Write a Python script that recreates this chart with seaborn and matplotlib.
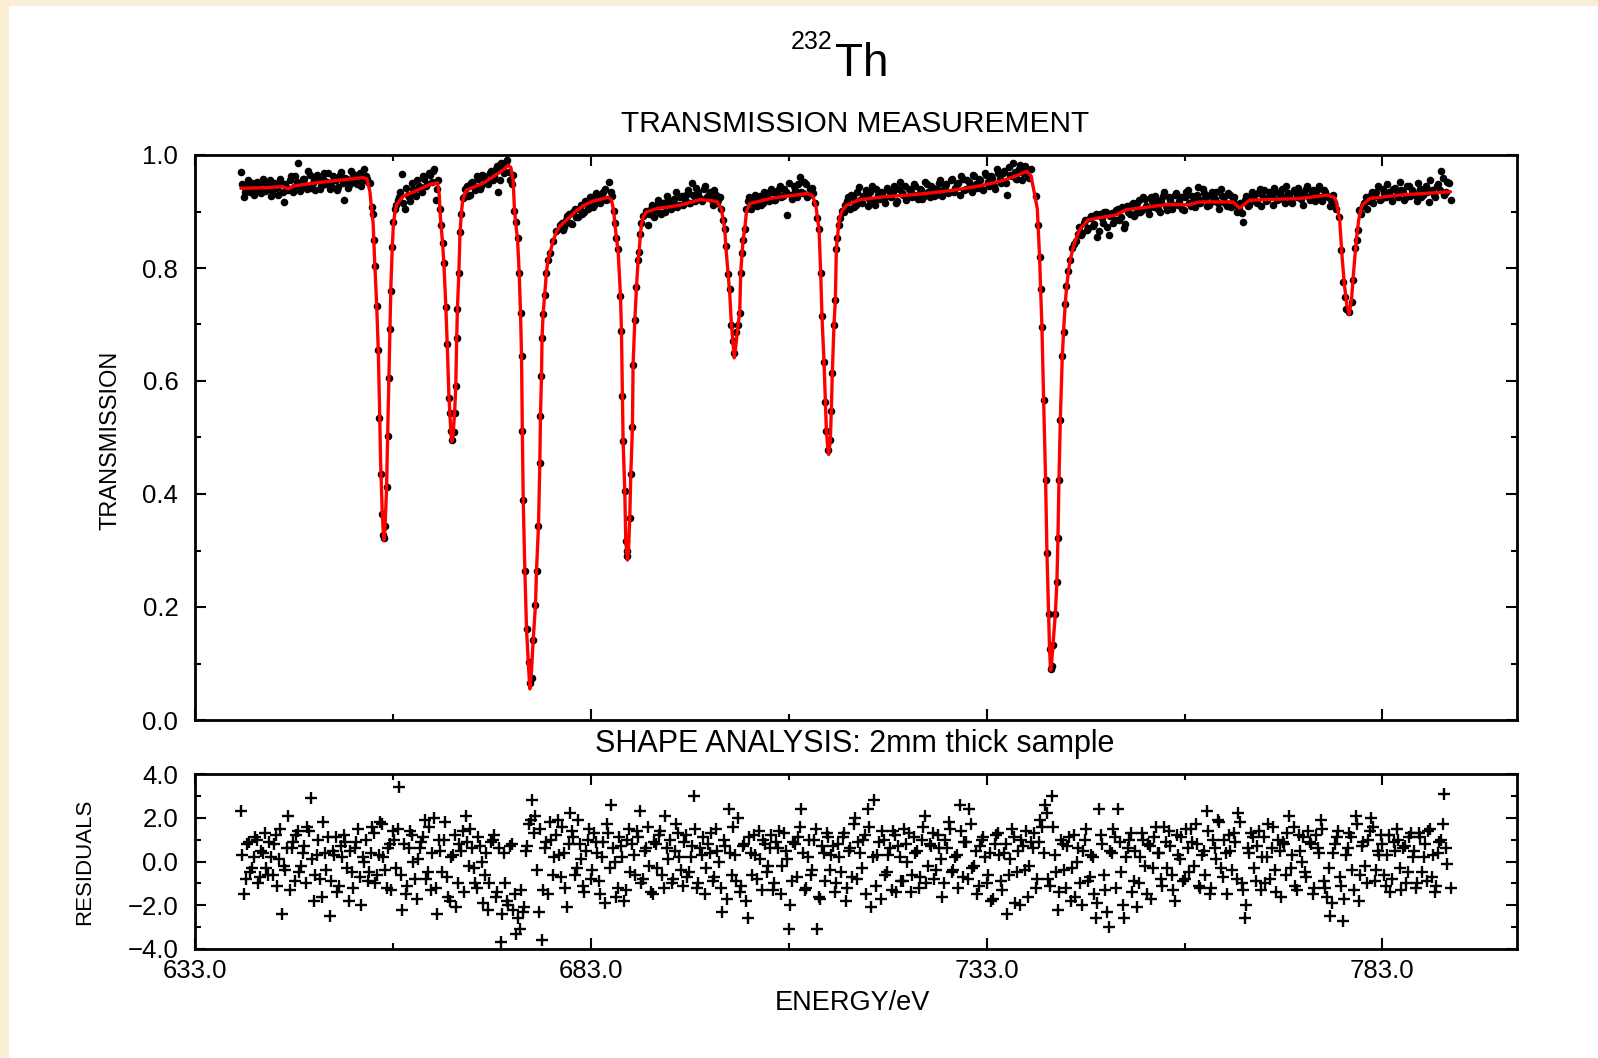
import numpy as np
import pandas as pd
import matplotlib
matplotlib.use("Agg")
import matplotlib.pyplot as plt
import seaborn as sns
from matplotlib.patches import Rectangle
from matplotlib.ticker import MultipleLocator, FuncFormatter, FixedLocator

# ---------------------------------------------------------------- data
# fitted transmission curve (energy / eV, transmission)
fit_e = [638.8, 641.5, 644.1, 644.8, 645.4, 648.4, 651.0, 654.2, 654.7, 655.1,
         655.3, 655.5, 655.7, 655.95, 656.15, 656.3, 656.45, 656.65, 656.78, 656.87,
         657.0, 657.2, 657.33, 657.49, 657.62, 657.75, 657.92, 658.05, 658.25, 658.47,
         659.3, 661.0, 662.7, 663.64,
         663.85, 664.0, 664.27, 664.44, 664.69, 664.86, 665.07, 665.2, 665.32, 665.45,
         665.6, 665.8, 665.95, 666.05, 666.15, 666.33, 666.46, 666.6, 666.8,
         667.1, 667.3, 669.4, 671.9, 672.56, 672.9, 673.19,
         673.35, 673.5, 673.74, 673.95, 674.12, 674.25, 674.35, 674.46, 674.67, 674.88,
         675.13, 675.3, 675.5, 675.72, 676.01, 676.14, 676.39, 676.56, 676.64, 676.77,
         676.84, 676.97, 677.18, 677.39, 677.59, 677.89, 678.22, 678.65, 679.09,
         680.0, 681.0, 682.0, 683.0, 684.0, 685.2, 685.6,
         685.9, 686.03, 686.24, 686.45, 686.75, 686.87, 687.0, 687.08, 687.29, 687.42,
         687.63, 687.76, 687.92, 688.05, 688.26, 688.34, 688.56, 688.77, 688.98, 689.1,
         689.27, 689.4, 689.61, 690.03,
         691.3, 694.2, 696.8, 698.9, 699.5,
         699.71, 699.92, 700.05, 700.34, 700.55, 700.76, 700.97, 701.12, 701.3, 701.6,
         701.81, 701.94, 702.11, 702.24, 702.45, 702.66,
         703.08, 706.0, 710.4, 711.07, 711.49,
         711.62, 711.83, 712.04, 712.2, 712.46, 712.63, 712.76, 712.96, 713.05, 713.26,
         713.38, 713.51, 713.72, 713.89, 714.02, 714.15, 714.31, 714.44, 714.73,
         715.28, 716.97, 720.0, 723.0, 726.0, 729.0, 732.0, 734.6, 736.5, 738.1, 738.6,
         739.0, 739.4, 739.69, 739.82, 739.99, 740.2, 740.45, 740.62, 740.83, 740.95,
         741.08, 741.2, 741.38, 741.68, 741.88, 742.01, 742.14, 742.31, 742.56, 742.77,
         742.95, 743.1, 743.3, 743.5, 743.75, 744.0,
         744.7, 745.8, 746.85, 749.4, 750.6, 755.7, 758.6, 759.9, 764.1, 764.95,
         766.2, 772.5, 776.1, 776.9, 777.2,
         777.6, 777.9, 778.2, 778.5, 778.8, 779.1, 779.4, 779.7, 780.0, 780.3,
         780.5, 781.4, 785.1, 791.6]
fit_t = [0.941, 0.942, 0.944, 0.940, 0.945, 0.951, 0.955, 0.960, 0.958, 0.935,
         0.905, 0.880, 0.810, 0.735, 0.655, 0.560, 0.455, 0.370, 0.335, 0.318,
         0.340, 0.410, 0.500, 0.600, 0.690, 0.770, 0.835, 0.875, 0.898, 0.912,
         0.927, 0.937, 0.948, 0.951,
         0.930, 0.890, 0.845, 0.808, 0.731, 0.666, 0.575, 0.540, 0.510, 0.493,
         0.505, 0.545, 0.595, 0.670, 0.728, 0.790, 0.855, 0.890, 0.918,
         0.932, 0.938, 0.950, 0.973, 0.982, 0.978, 0.955,
         0.905, 0.880, 0.852, 0.792, 0.721, 0.644, 0.512, 0.390, 0.264, 0.161,
         0.095, 0.055, 0.085, 0.142, 0.203, 0.264, 0.344, 0.454, 0.538, 0.609,
         0.676, 0.718, 0.753, 0.792, 0.815, 0.829, 0.847, 0.864, 0.874,
         0.886, 0.899, 0.910, 0.917, 0.921, 0.925, 0.921,
         0.901, 0.879, 0.853, 0.830, 0.750, 0.689, 0.573, 0.493, 0.406, 0.316,
         0.283, 0.300, 0.357, 0.435, 0.518, 0.628, 0.708, 0.766, 0.815, 0.829,
         0.860, 0.877, 0.890, 0.899,
         0.905, 0.911, 0.921, 0.918, 0.905,
         0.885, 0.869, 0.839, 0.789, 0.755, 0.700, 0.665, 0.641, 0.660, 0.699,
         0.721, 0.792, 0.827, 0.850, 0.869, 0.900,
         0.914, 0.924, 0.932, 0.927, 0.905,
         0.889, 0.869, 0.792, 0.715, 0.634, 0.563, 0.512, 0.477, 0.470, 0.496,
         0.547, 0.615, 0.699, 0.744, 0.834, 0.853, 0.876, 0.889, 0.901,
         0.911, 0.921, 0.926, 0.929, 0.933, 0.938, 0.945, 0.953, 0.962, 0.971, 0.963,
         0.935, 0.905, 0.820, 0.763, 0.695, 0.567, 0.425, 0.296, 0.187, 0.126,
         0.088, 0.100, 0.132, 0.187, 0.245, 0.322, 0.425, 0.531, 0.644, 0.700,
         0.740, 0.765, 0.790, 0.810, 0.825, 0.840,
         0.867, 0.885, 0.888, 0.894, 0.903, 0.912, 0.912, 0.917, 0.917, 0.906,
         0.920, 0.923, 0.929, 0.925, 0.917,
         0.885, 0.820, 0.770, 0.735, 0.718, 0.745, 0.800, 0.850, 0.885, 0.905,
         0.912, 0.923, 0.929, 0.935]

# measured points inside the resonance dips
dip_e = [655.31, 655.51, 655.64, 655.73, 655.94, 656.15, 656.27, 656.44, 656.65, 656.78,
         656.86, 656.99, 657.20, 657.33, 657.49, 657.62, 657.71, 657.92, 658.04, 658.25,
         663.93, 664.06, 664.27, 664.44, 664.69, 664.86, 665.07, 665.20, 665.32, 665.49,
         665.74, 665.83, 665.95, 666.04, 666.12, 666.33, 666.46, 666.59, 666.80,
         673.32, 673.49, 673.74, 673.95, 674.12, 674.25, 674.33, 674.46, 674.67, 674.88,
         675.13, 675.30, 675.51, 675.72, 676.01, 676.14, 676.39, 676.56, 676.64, 676.77,
         676.84, 676.97, 677.18, 677.39, 677.59, 677.89, 678.22, 678.65, 679.09,
         685.90, 686.03, 686.24, 686.45, 686.75, 686.87, 687.00, 687.08, 687.29, 687.42,
         687.55, 687.63, 687.92, 688.05, 688.26, 688.34, 688.56, 688.77, 688.98, 689.10,
         689.27, 689.40, 689.61, 690.03,
         699.71, 699.92, 700.05, 700.34, 700.55, 700.76, 700.97, 701.10, 701.39, 701.60,
         701.81, 701.94, 702.11, 702.24, 702.45, 702.66,
         711.62, 711.83, 712.04, 712.20, 712.46, 712.63, 712.76, 712.96, 713.26, 713.38,
         713.51, 713.72, 713.89, 714.02, 714.15, 714.31, 714.44, 714.73,
         739.30, 739.48, 739.69, 739.82, 739.99, 740.20, 740.45, 740.62, 740.83, 740.95,
         741.08, 741.20, 741.38, 741.68, 741.88, 742.01, 742.14, 742.31, 742.56, 742.77,
         742.95, 743.07, 743.28, 743.49, 743.79, 744.05,
         777.57, 777.75, 777.99, 778.29, 778.45, 778.84, 779.10, 779.30, 779.55, 779.75,
         779.95, 780.10]
dip_t = [0.908, 0.895, 0.850, 0.803, 0.732, 0.654, 0.534, 0.435, 0.364, 0.328,
         0.322, 0.344, 0.412, 0.502, 0.605, 0.692, 0.760, 0.837, 0.882, 0.905,
         0.905, 0.876, 0.844, 0.808, 0.731, 0.666, 0.570, 0.544, 0.512, 0.496,
         0.509, 0.544, 0.592, 0.676, 0.728, 0.792, 0.863, 0.895, 0.924,
         0.901, 0.882, 0.853, 0.792, 0.721, 0.644, 0.512, 0.390, 0.264, 0.161,
         0.103, 0.065, 0.075, 0.142, 0.203, 0.264, 0.344, 0.454, 0.538, 0.609,
         0.676, 0.718, 0.753, 0.792, 0.815, 0.827, 0.847, 0.866, 0.876,
         0.901, 0.879, 0.853, 0.833, 0.750, 0.689, 0.573, 0.493, 0.406, 0.316,
         0.290, 0.299, 0.357, 0.435, 0.518, 0.628, 0.708, 0.766, 0.815, 0.829,
         0.860, 0.879, 0.892, 0.901,
         0.885, 0.869, 0.839, 0.789, 0.763, 0.699, 0.670, 0.650, 0.686, 0.699,
         0.721, 0.792, 0.827, 0.850, 0.869, 0.905,
         0.889, 0.869, 0.792, 0.715, 0.634, 0.563, 0.512, 0.477, 0.496, 0.547,
         0.615, 0.699, 0.744, 0.834, 0.853, 0.876, 0.889, 0.901,
         0.927, 0.876, 0.820, 0.763, 0.695, 0.567, 0.425, 0.296, 0.187, 0.126,
         0.090, 0.095, 0.132, 0.187, 0.245, 0.322, 0.425, 0.531, 0.644, 0.686,
         0.737, 0.769, 0.795, 0.815, 0.835, 0.842,
         0.891, 0.832, 0.776, 0.748, 0.728, 0.722, 0.740, 0.779, 0.835, 0.850,
         0.867, 0.903]

# measured points between the dips: energy span of each stretch + values
# (two interleaved channel sets, "a" and "b")
flat_spans_a = [(638.8, 655.1), (658.45, 663.75), (666.95, 673.15), (679.3, 685.7),
                (690.2, 699.5), (702.85, 711.3), (714.95, 738.6), (744.3, 777.1),
                (780.3, 791.6)]
flat0a = [0.970, 0.925, 0.945, 0.935, 0.950, 0.938, 0.948, 0.932, 0.952, 0.940,
          0.955, 0.936, 0.947, 0.930, 0.950, 0.916, 0.942, 0.955, 0.935, 0.962,
          0.985, 0.945, 0.958, 0.940, 0.965, 0.950, 0.938, 0.960, 0.945, 0.968,
          0.952, 0.940, 0.962, 0.955, 0.944, 0.970, 0.921, 0.958, 0.948, 0.966,
          0.952, 0.962, 0.945, 0.975, 0.958, 0.950]
flat1a = [0.912, 0.925, 0.966, 0.905, 0.930, 0.918, 0.940, 0.928, 0.945, 0.935,
          0.958, 0.948, 0.965, 0.972, 0.920, 0.955]
flat2a = [0.925, 0.945, 0.930, 0.952, 0.938, 0.958, 0.945, 0.962, 0.950, 0.968,
          0.955, 0.975, 0.935, 0.985, 0.968, 0.992, 0.955, 0.965]
flat3a = [0.880, 0.872, 0.892, 0.880, 0.900, 0.890, 0.905, 0.895, 0.918, 0.905,
          0.925, 0.912, 0.930, 0.915, 0.935, 0.920, 0.952, 0.928]
flat4a = [0.876, 0.905, 0.890, 0.912, 0.898, 0.915, 0.900, 0.920, 0.905, 0.922,
          0.908, 0.925, 0.912, 0.930, 0.915, 0.950, 0.918, 0.935, 0.922, 0.940,
          0.925, 0.935, 0.912, 0.930, 0.920, 0.905]
flat5a = [0.918, 0.905, 0.922, 0.910, 0.928, 0.915, 0.932, 0.918, 0.935, 0.920,
          0.938, 0.925, 0.940, 0.893, 0.930, 0.945, 0.925, 0.961, 0.932, 0.948,
          0.930, 0.942, 0.915]
flat6a = [0.900, 0.918, 0.905, 0.925, 0.912, 0.943, 0.915, 0.930, 0.910, 0.935,
          0.918, 0.940, 0.922, 0.932, 0.915, 0.938, 0.925, 0.945, 0.918, 0.953,
          0.930, 0.920, 0.940, 0.925, 0.945, 0.922, 0.938, 0.928, 0.948, 0.925,
          0.942, 0.930, 0.950, 0.928, 0.945, 0.932, 0.955, 0.935, 0.948, 0.930,
          0.958, 0.940, 0.952, 0.935, 0.962, 0.942, 0.955, 0.938, 0.965, 0.945,
          0.960, 0.940, 0.968, 0.950, 0.972, 0.930, 0.965, 0.985, 0.958, 0.975,
          0.955, 0.980, 0.962, 0.975]
flat7a = [0.848, 0.872, 0.862, 0.885, 0.870, 0.892, 0.878, 0.855, 0.895, 0.880,
          0.900, 0.858, 0.898, 0.885, 0.905, 0.890, 0.870, 0.910, 0.895, 0.915,
          0.898, 0.920, 0.902, 0.922, 0.905, 0.925, 0.908, 0.920, 0.900, 0.928,
          0.910, 0.925, 0.905, 0.930, 0.912, 0.925, 0.902, 0.935, 0.915, 0.928,
          0.908, 0.944, 0.920, 0.932, 0.910, 0.930, 0.918, 0.935, 0.905, 0.928,
          0.915, 0.932, 0.908, 0.925, 0.900, 0.915, 0.882, 0.928, 0.912, 0.935,
          0.918, 0.932, 0.910, 0.938, 0.920, 0.930, 0.912, 0.935, 0.922, 0.940,
          0.915, 0.932, 0.918, 0.938, 0.925, 0.935, 0.912, 0.940, 0.925, 0.935,
          0.918, 0.940, 0.925, 0.938, 0.928, 0.910, 0.930, 0.905]
flat8a = [0.895, 0.915, 0.905, 0.928, 0.915, 0.935, 0.920, 0.940, 0.925, 0.935,
          0.918, 0.942, 0.925, 0.938, 0.920, 0.945, 0.928, 0.935, 0.918, 0.940,
          0.930, 0.945, 0.917, 0.938, 0.925, 0.948, 0.972, 0.930, 0.952, 0.920]

flat_spans_b = [(639.0, 654.9), (658.6, 663.6), (667.1, 673.0), (679.5, 685.5),
                (690.4, 699.3), (703.0, 711.1), (715.15, 738.4), (744.5, 776.9),
                (780.5, 791.4)]
flat0b = [0.948, 0.935, 0.955, 0.942, 0.930, 0.952, 0.940, 0.958, 0.937, 0.945,
          0.928, 0.950, 0.942, 0.957, 0.935, 0.948, 0.938, 0.962, 0.944, 0.952,
          0.936, 0.958, 0.947, 0.972, 0.942, 0.955, 0.965, 0.940, 0.958, 0.948,
          0.968, 0.945, 0.955, 0.938, 0.965, 0.950, 0.960, 0.942, 0.972, 0.955,
          0.948, 0.968, 0.955, 0.962, 0.952]
flat1b = [0.920, 0.935, 0.915, 0.942, 0.925, 0.950, 0.930, 0.955, 0.940, 0.962,
          0.945, 0.968, 0.952, 0.975, 0.940]
flat2b = [0.940, 0.928, 0.950, 0.945, 0.962, 0.940, 0.965, 0.958, 0.948, 0.972,
          0.962, 0.980, 0.955, 0.978, 0.988, 0.970, 0.948]
flat3b = [0.868, 0.885, 0.895, 0.878, 0.905, 0.890, 0.912, 0.900, 0.915, 0.925,
          0.908, 0.932, 0.918, 0.928, 0.940, 0.922, 0.935]
flat4b = [0.895, 0.912, 0.902, 0.920, 0.895, 0.915, 0.928, 0.910, 0.918, 0.935,
          0.912, 0.928, 0.920, 0.938, 0.915, 0.930, 0.942, 0.925, 0.918, 0.945,
          0.928, 0.922, 0.938, 0.915, 0.925]
flat5b = [0.925, 0.915, 0.930, 0.922, 0.912, 0.935, 0.925, 0.940, 0.920, 0.930,
          0.945, 0.928, 0.935, 0.950, 0.922, 0.938, 0.948, 0.935, 0.952, 0.925,
          0.940, 0.932]
flat6b = [0.912, 0.925, 0.930, 0.908, 0.935, 0.920, 0.928, 0.938, 0.922, 0.945,
          0.912, 0.930, 0.935, 0.920, 0.942, 0.928, 0.935, 0.915, 0.940, 0.932,
          0.945, 0.925, 0.935, 0.948, 0.930, 0.940, 0.922, 0.952, 0.935, 0.945,
          0.928, 0.940, 0.955, 0.938, 0.948, 0.935, 0.958, 0.942, 0.950, 0.962,
          0.938, 0.955, 0.945, 0.965, 0.948, 0.958, 0.940, 0.968, 0.952, 0.962,
          0.945, 0.975, 0.958, 0.968, 0.950, 0.978, 0.962, 0.970, 0.958, 0.982,
          0.968, 0.975, 0.960]
flat7b = [0.860, 0.858, 0.880, 0.868, 0.888, 0.875, 0.895, 0.865, 0.888, 0.900,
          0.872, 0.892, 0.880, 0.902, 0.885, 0.908, 0.878, 0.900, 0.912, 0.892,
          0.915, 0.900, 0.925, 0.910, 0.895, 0.918, 0.928, 0.905, 0.918, 0.935,
          0.902, 0.920, 0.912, 0.932, 0.918, 0.905, 0.925, 0.938, 0.910, 0.922,
          0.930, 0.915, 0.940, 0.925, 0.912, 0.935, 0.922, 0.915, 0.940, 0.925,
          0.910, 0.930, 0.920, 0.912, 0.905, 0.898, 0.920, 0.910, 0.925, 0.930,
          0.915, 0.940, 0.925, 0.918, 0.935, 0.928, 0.942, 0.920, 0.932, 0.925,
          0.945, 0.928, 0.915, 0.935, 0.942, 0.922, 0.932, 0.945, 0.920, 0.938,
          0.930, 0.945, 0.918, 0.935, 0.925, 0.920, 0.915]
flat8b = [0.910, 0.925, 0.918, 0.935, 0.928, 0.945, 0.922, 0.932, 0.948, 0.928,
          0.940, 0.930, 0.952, 0.935, 0.925, 0.945, 0.938, 0.930, 0.950, 0.925,
          0.940, 0.935, 0.955, 0.930, 0.945, 0.938, 0.960, 0.935, 0.950]

flat_values_a = [flat0a, flat1a, flat2a, flat3a, flat4a, flat5a, flat6a, flat7a, flat8a]
flat_values_b = [flat0b, flat1b, flat2b, flat3b, flat4b, flat5b, flat6b, flat7b, flat8b]

# normalised residuals on two interleaved channel sets
res_span_a = (638.8, 791.6)
residuals_a = [
    2.3, -1.5, 0.8, -0.5, 0.2, 1.0, -0.7, 0.4, -0.3, 0.9,
    -0.6, 1.2, 0.1, -2.4, -0.4, 2.1, 0.6, -0.9, 1.4, -0.2,
    0.7, 1.6, 2.9, -1.8, 0.3, -0.8, 1.8, -0.4, -2.5, 0.5,
    1.1, -1.1, 0.2, 0.9, -1.8, -0.5, 0.6, 1.5, -2.0, 0.0,
    -0.9, 0.4, 1.3, -0.6, 1.8, 0.2, -1.2, 0.8, 1.4, -0.3,
    3.4, -2.2, -1.5, 0.6, 1.2, -0.8, 0.1, 0.9, 1.9, -0.5,
    -1.3, 2.0, -2.4, 0.5, 1.0, -0.7, -1.8, 0.3, -2.1, 0.8,
    1.4, 2.1, -0.2, 0.6, -1.0, 1.1, 0.0, -0.6, -2.2, 0.9,
    1.2, -1.4, -3.7, 0.4, -1.8, 0.7, -2.2, -3.3, -3.1, -2.3,
    0.5, 1.7, 2.8, 2.1, -2.3, -3.6, 0.6, -1.5, 1.0, 0.2,
    1.9, -0.7, 0.4, -2.1, 2.2, 1.1, -0.3, 0.8, -1.1, 0.5,
    1.5, -0.4, 0.9, -0.9, 0.2, -1.9, 1.3, 2.6, 0.0, -1.2,
    0.7, -1.8, 1.0, -0.5, 0.3, 1.4, 2.3, -0.8, 0.6, -0.2,
    -1.5, 0.8, 1.2, -0.6, 2.1, 0.1, -1.0, 0.5, 1.3, -0.4,
    0.9, -0.7, 0.2, 3.0, -1.2, 0.6, 1.1, -0.3, 0.4, -0.9,
    1.5, 0.0, -2.3, 0.7, 2.4, -0.6, 0.3, 2.0, -1.1, 0.8,
    -2.6, 0.4, 1.2, -0.8, 0.1, 1.0, -0.5, 0.6, -1.3, 0.9,
    1.4, -0.2, 0.5, -3.1, -0.9, 0.8, 1.1, 2.4, -1.3, 0.2,
    -0.6, 1.0, -3.1, -1.7, 0.4, 1.3, -0.4, 0.7, -1.0, 0.2,
    1.1, -1.8, 0.5, -0.7, 2.0, 0.9, -0.3, 1.2, 2.4, -2.1,
    2.8, 0.3, -1.7, 1.0, -0.5, 0.6, 1.4, -1.4, 0.2, -0.9,
    0.8, 1.3, -0.6, 0.4, -1.2, 1.0, 2.1, -0.2, 0.7, -0.8,
    1.2, 0.1, -1.0, 0.6, 1.5, -0.4, 0.3, 2.6, -0.7, 0.9,
    2.4, -0.3, 0.5, -1.1, 1.0, 0.2, -0.6, -1.8, 0.8, 1.3,
    -0.9, 0.4, -2.4, 0.1, 1.1, -0.5, -2.0, 0.7, 1.4, -0.2,
    0.6, -1.2, 0.9, 1.6, 2.6, -0.8, 3.0, 0.3, -2.2, 1.0,
    -0.4, 0.7, -1.8, 1.2, 0.0, -1.0, 0.5, 1.5, -0.7, 0.2,
    -2.6, 2.4, 0.8, -1.3, -3.0, 0.4, 1.1, 2.4, -0.5, -2.6,
    0.6, 1.3, -0.9, -2.1, 0.2, 1.0, -1.5, 0.7, -0.3, 1.6,
    0.4, -1.1, 0.9, 1.4, -0.6, -1.8, 0.3, 1.1, -0.8, 0.6,
    1.5, -0.2, 0.8, -1.2, 0.5, 2.3, -1.5, 1.0, 0.1, 1.8,
    -0.7, 0.4, 1.2, -0.4, 0.9, 2.2, -1.0, -2.6, 0.6, 1.3,
    -0.3, 0.7, -1.3, 1.1, 0.2, -0.8, 1.6, -1.4, 0.5, 0.9,
    -0.6, 2.1, 0.3, -1.1, 1.2, 0.0, -0.5, 1.4, 0.8, -1.2,
    0.6, 1.9, -0.9, -1.6, -2.5, 0.4, 1.1, -0.7, -2.7, 0.3,
    1.3, -0.4, 2.1, -1.8, 0.7, -0.2, 1.0, 2.0, -0.9, 0.5,
    1.2, -0.6, 0.3, -1.4, 0.9, 1.5, -0.3, 0.6, -1.0, 1.1,
    0.2, -1.2, 1.3, -0.5, 0.8, 1.4, -0.7, -1.4, 0.4, 1.0,
    3.1, -0.1, -1.2]
res_span_b = (639.0, 791.0)
residuals_b = [
    0.3, -0.8, 0.9, -0.3, 1.1, -1.0, 0.5, 1.3, -0.6, 0.2,
    0.8, -1.1, 1.5, -0.2, 0.6, -1.3, 0.9, 1.2, -0.5, 0.4,
    -1.0, 1.4, 0.1, -0.6, 1.0, -1.6, 0.4, 1.1, -0.9, 0.3,
    -1.4, 0.7, 1.2, -0.3, 0.5, -1.2, 0.9, -0.7, 0.2, 1.0,
    -0.5, 1.6, -1.0, 0.3, 1.7, -0.4, 0.6, -1.3, 1.0, 1.5,
    -0.6, 0.8, -1.1, 1.4, 0.0, -1.7, 0.6, 1.1, -0.8, 1.6,
    0.4, -1.2, 1.0, -0.5, 1.8, -1.6, 0.2, 1.2, -1.0, 0.5,
    -1.4, 0.9, 1.5, -0.3, -1.2, 0.7, -1.9, 0.4, -1.0, 1.0,
    -1.6, 0.6, -2.4, -1.0, -2.0, 0.8, -1.5, -2.6, -1.3, -2.1,
    0.7, 1.9, 1.3, -0.4, 1.5, -1.3, 0.9, 1.8, -0.6, 1.2,
    0.3, 1.6, -1.2, 0.8, 1.4, -0.6, 1.9, 0.1, -1.4, 1.0,
    -0.8, 1.3, 0.4, -1.5, 0.9, 1.7, -0.3, 0.6, -1.6, 1.1,
    0.2, -1.3, 1.5, 0.8, -0.6, 1.1, -1.0, 0.5, 1.6, -1.4,
    0.9, -0.3, 1.4, -1.2, 0.6, 1.0, -0.8, 1.7, 0.2, -1.1,
    1.2, -0.5, 0.7, 1.5, -1.0, 0.3, -1.5, 0.8, 1.3, -0.7,
    0.5, -1.2, 1.0, -1.7, 0.4, 1.6, -0.9, -1.4, 0.7, -1.8,
    1.1, -0.6, 0.3, 1.4, -1.3, 0.8, -0.2, 1.2, -1.0, 0.6,
    -1.5, 1.3, 0.1, -2.0, 0.9, -0.7, 1.6, 0.4, -1.2, 1.0,
    -0.4, 1.5, -1.6, 0.7, -0.9, 1.1, 0.3, -1.4, 0.8, -0.5,
    1.3, -1.2, 0.6, 1.7, -0.8, 0.4, 1.0, -1.5, 1.6, 0.2,
    -1.1, 0.9, 1.4, -0.6, 0.3, -1.3, 1.2, 0.7, -0.9, 1.5,
    0.0, -1.4, 1.1, 0.5, -0.7, 1.6, -1.0, 0.8, 1.3, -0.4,
    0.6, -1.6, 1.0, 1.8, -0.5, 0.2, -1.2, 1.4, 0.9, -0.8,
    1.7, -0.2, -1.5, 0.7, 1.1, -1.0, 0.4, -1.7, 1.2, 0.3,
    -1.3, 0.8, -0.6, 1.5, -1.9, 0.5, 1.0, -0.4, -1.6, 0.9,
    1.3, -0.8, 1.9, 0.4, 2.2, -1.1, 1.6, -0.5, -1.4, 0.8,
    -1.2, 1.1, -0.3, -1.6, 0.6, -2.0, 1.0, -0.9, 0.3, -1.5,
    -1.9, 1.2, -0.6, -2.3, 0.5, 1.5, -1.2, 0.9, -2.0, 0.2,
    1.0, -1.4, 0.5, -1.0, 1.3, -0.2, 0.8, -1.7, 1.1, 0.4,
    -0.8, 1.6, -0.3, 0.7, -1.3, 1.2, 0.1, -0.9, 1.5, -0.5,
    0.9, 1.7, -1.1, 0.3, -0.6, 1.4, -1.2, 0.6, 1.9, -0.3,
    1.0, -1.5, 0.5, 1.3, -0.8, 1.8, -1.3, -2.0, 0.4, 1.1,
    -0.9, 1.4, 0.2, -1.0, 1.7, 0.6, -0.4, 1.0, -1.6, 0.8,
    1.3, -0.3, 1.6, -1.3, 0.5, 1.1, -0.7, 0.9, -1.5, 1.2,
    0.4, 1.5, -1.2, -0.3, -1.9, 0.8, 1.4, -1.1, -1.7, 0.6,
    1.1, -1.3, 1.7, -0.6, 0.9, -1.0, 1.4, 1.6, -0.4, 0.3,
    0.8, -1.1, 1.2, -0.8, 0.5, 1.0, -1.3, 0.7, -0.5, 1.3,
    0.5, -1.0, 1.1, 0.2, -0.9, 1.5, 0.3, -1.1, 0.9, 1.7, 0.6]

x_major = [633.0, 683.0, 733.0, 783.0]
x_minor = [658.0, 708.0, 758.0]

# ---------------------------------------------------------------- tables
def stretches(spans, values):
    e = np.concatenate([np.linspace(a, b, len(v)) for (a, b), v in zip(spans, values)])
    t = np.concatenate([np.asarray(v, float) for v in values])
    return e, t

ea, ta = stretches(flat_spans_a, flat_values_a)
eb, tb = stretches(flat_spans_b, flat_values_b)
meas = pd.DataFrame({"energy": np.concatenate([ea, eb, dip_e]),
                     "trans": np.concatenate([ta, tb, dip_t])})
fit = pd.DataFrame({"energy": fit_e, "trans": fit_t})
res = pd.DataFrame({
    "energy": np.concatenate([np.linspace(*res_span_a, len(residuals_a)),
                              np.linspace(*res_span_b, len(residuals_b))]),
    "res": residuals_a + residuals_b})

# ---------------------------------------------------------------- style
sns.set_style("ticks")
plt.rcParams["font.family"] = ["Liberation Sans", "DejaVu Sans"]
plt.rcParams["text.color"] = "black"
plt.rcParams["xtick.color"] = "black"
plt.rcParams["ytick.color"] = "black"
plt.rcParams["axes.edgecolor"] = "black"

W, H = 1598, 1058
CREAM = "#FAEFD6"
fig = plt.figure(figsize=(W / 100, H / 100), dpi=100, facecolor="white")
fig.patches.append(Rectangle((0, 0), 9 / W, 1, transform=fig.transFigure,
                             facecolor=CREAM, edgecolor="none", zorder=0))
fig.patches.append(Rectangle((0, 1 - 6 / H), 1, 6 / H, transform=fig.transFigure,
                             facecolor=CREAM, edgecolor="none", zorder=0))

left, width = 195 / W, (1517 - 195) / W
ax1 = fig.add_axes([left, 1 - 720 / H, width, (720 - 155) / H])
ax2 = fig.add_axes([left, 1 - 949 / H, width, (949 - 774) / H])

# ---------------------------------------------------------------- plots
sns.scatterplot(data=meas, x="energy", y="trans", ax=ax1, color="black",
                s=30, linewidth=0, legend=False, zorder=2)
sns.lineplot(data=fit, x="energy", y="trans", ax=ax1, color="red", lw=2.4,
             sort=False, estimator=None, legend=False, zorder=3)
sns.scatterplot(data=res, x="energy", y="res", ax=ax2, color="black", marker="+",
                s=75, linewidth=1.7, legend=False, zorder=2)

fmt = FuncFormatter(lambda v, p: f"{v:.1f}".replace("-", "\u2212"))
for ax in (ax1, ax2):
    ax.set_facecolor("white")
    ax.set_xlim(633, 800)
    ax.set_xlabel("")
    ax.set_ylabel("")
    ax.xaxis.set_major_locator(FixedLocator(x_major))
    ax.xaxis.set_minor_locator(FixedLocator(x_minor))
    ax.xaxis.set_major_formatter(fmt)
    ax.yaxis.set_major_formatter(fmt)
    for sp in ax.spines.values():
        sp.set_visible(True)
        sp.set_linewidth(2.0)
        sp.set_color("black")
    ax.tick_params(which="both", direction="in", top=True, right=True,
                   width=1.5, color="black", labelsize=18.5, labelcolor="black")
    ax.tick_params(which="major", length=8)
    ax.tick_params(which="minor", length=4.5)
    ax.tick_params(axis="y", pad=12)
    ax.tick_params(axis="x", pad=7)

ax1.set_ylim(0, 1.0)
ax1.yaxis.set_major_locator(MultipleLocator(0.2))
ax1.yaxis.set_minor_locator(MultipleLocator(0.1))
ax1.tick_params(axis="x", labelbottom=False)

ax2.set_ylim(-4, 4)
ax2.yaxis.set_major_locator(MultipleLocator(2.0))
ax2.yaxis.set_minor_locator(MultipleLocator(1.0))

# ---------------------------------------------------------------- texts
fig.text(833 / W, 1 - 49 / H, "232", fontsize=18, ha="right", va="baseline")
fig.text(835 / W, 1 - 76 / H, "Th", fontsize=33, ha="left", va="baseline")
fig.text(855 / W, 1 - 132 / H, "TRANSMISSION MEASUREMENT", fontsize=21.5,
         ha="center", va="baseline")
fig.text(855 / W, 1 - 752 / H, "SHAPE ANALYSIS: 2mm thick sample", fontsize=22,
         ha="center", va="baseline")
fig.text(852 / W, 1 - 1010 / H, "ENERGY/eV", fontsize=19.5, ha="center", va="baseline")
fig.text(110 / W, 1 - 440 / H, "TRANSMISSION", fontsize=17, rotation=90,
         ha="center", va="center")
fig.text(85 / W, 1 - 862 / H, "RESIDUALS", fontsize=16, rotation=90,
         ha="center", va="center")

fig.savefig("out.png", dpi=100, facecolor=fig.get_facecolor())
